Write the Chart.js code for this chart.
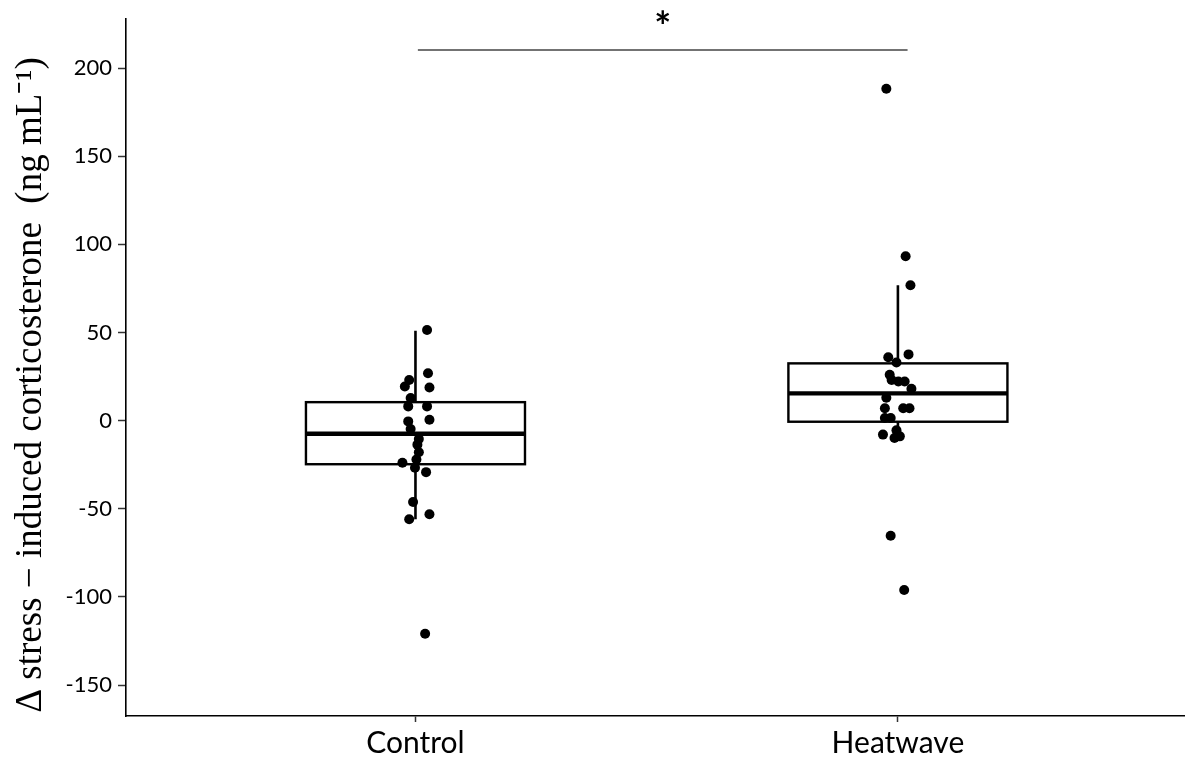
<!DOCTYPE html>
<html>
<head>
<meta charset="utf-8">
<script src="https://cdn.jsdelivr.net/npm/chart.js@4.4.1/dist/chart.umd.min.js"></script>
<style>
  html, body { margin: 0; padding: 0; background: #fff; }
  #wrap { width: 1189px; height: 769px; position: relative; }
</style>
</head>
<body>
<div id="wrap"><canvas id="c" width="1189" height="769"></canvas></div>
<script>
// ---- data ----
const categories = ['Control', 'Heatwave'];
const yTickValues = [-150, -100, -50, 0, 50, 100, 150, 200];

// box statistics per category: [whiskerLow, q1, median, q3, whiskerHigh]
const controlBox = [-55.9, -24.7, -7.4, 10.5, 51.0];
const heatwaveBox = [-9.8, -0.6, 15.5, 32.5, 76.8];

// jittered observations (x position in category units, y value)
const controlX = [1.024, 1.026, 0.987, 0.978, 1.029, 0.990, 0.985, 1.024, 0.985, 1.029, 0.990, 1.007, 1.004, 1.007, 1.002, 0.973, 0.999, 1.022, 0.995, 0.987, 1.029, 1.020];
const controlY = [51.4, 26.9, 23.1, 19.4, 18.8, 12.8, 8.1, 8.1, -0.4, 0.5, -4.7, -10.4, -13.6, -17.9, -22.0, -23.9, -26.7, -29.2, -46.1, -55.9, -53.1, -120.8];
const heatwaveX = [1.976, 2.016, 2.026, 2.022, 1.980, 1.997, 1.983, 1.987, 2.001, 2.014, 2.028, 1.976, 1.973, 2.011, 2.024, 1.973, 1.985, 1.969, 1.997, 2.004, 1.993, 1.985, 2.013];
const heatwaveY = [188.3, 93.3, 76.8, 37.6, 36.0, 33.0, 26.0, 23.1, 22.2, 22.2, 18.1, 13.0, 7.0, 7.0, 7.0, 1.5, 1.5, -7.9, -5.5, -8.9, -9.8, -65.3, -96.0];

// significance annotation
const sigX = [1.005, 2.02];
const sigY = 210.2;
const sigLabel = '*';

const yTitle = 'Δ stress − induced corticosterone  (ng mL⁻¹)';

// ---- build ----
const boxes = [controlBox, heatwaveBox];
const boxHalfWidth = 0.227;

const points = [];
controlX.forEach((x, i) => points.push({ x: x, y: controlY[i] }));
heatwaveX.forEach((x, i) => points.push({ x: x, y: heatwaveY[i] }));

const boxPlugin = {
  id: 'boxPlugin',
  beforeDatasetsDraw(chart) {
    const ctx = chart.ctx;
    const xs = chart.scales.x, ys = chart.scales.y;
    ctx.save();
    ctx.strokeStyle = '#000';
    boxes.forEach((b, i) => {
      const cx = xs.getPixelForValue(i + 1);
      const l = xs.getPixelForValue(i + 1 - boxHalfWidth);
      const r = xs.getPixelForValue(i + 1 + boxHalfWidth);
      const yLow = ys.getPixelForValue(b[0]);
      const yQ1 = ys.getPixelForValue(b[1]);
      const yMed = ys.getPixelForValue(b[2]);
      const yQ3 = ys.getPixelForValue(b[3]);
      const yHigh = ys.getPixelForValue(b[4]);
      ctx.lineWidth = 2.6;
      ctx.beginPath();
      ctx.moveTo(cx, yQ3); ctx.lineTo(cx, yHigh);
      ctx.moveTo(cx, yQ1); ctx.lineTo(cx, yLow);
      ctx.stroke();
      ctx.fillStyle = '#fff';
      ctx.fillRect(l, yQ3, r - l, yQ1 - yQ3);
      ctx.lineWidth = 2.4;
      ctx.strokeRect(l, yQ3, r - l, yQ1 - yQ3);
      ctx.lineWidth = 4.4;
      ctx.beginPath();
      ctx.moveTo(l, yMed); ctx.lineTo(r, yMed);
      ctx.stroke();
    });
    ctx.restore();
  },
  afterDraw(chart) {
    const ctx = chart.ctx;
    const xs = chart.scales.x, ys = chart.scales.y;
    ctx.save();
    const x1 = xs.getPixelForValue(sigX[0]);
    const x2 = xs.getPixelForValue(sigX[1]);
    const yy = ys.getPixelForValue(sigY);
    ctx.strokeStyle = '#444';
    ctx.lineWidth = 1.6;
    ctx.beginPath();
    ctx.moveTo(x1, yy); ctx.lineTo(x2, yy);
    ctx.stroke();
    ctx.fillStyle = '#000';
    ctx.font = 'bold 40px Lato';
    ctx.textAlign = 'center';
    ctx.textBaseline = 'middle';
    ctx.fillText(sigLabel, (x1 + x2) / 2, yy - 22);

    // y axis title
    ctx.translate(31, 385);
    ctx.rotate(-Math.PI / 2);
    ctx.font = '37px "Liberation Serif"';
    ctx.textAlign = 'center';
    ctx.textBaseline = 'middle';
    ctx.fillText(yTitle, 0, 0);
    ctx.restore();
  }
};

new Chart(document.getElementById('c'), {
  type: 'scatter',
  data: {
    datasets: [{
      data: points,
      pointRadius: 5,
      pointHoverRadius: 5,
      pointBackgroundColor: '#000',
      pointBorderColor: '#000',
      pointBorderWidth: 0
    }]
  },
  options: {
    responsive: false,
    animation: false,
    events: [],
    layout: { padding: { top: 16, right: 0, left: 0, bottom: 0 } },
    plugins: { legend: { display: false }, tooltip: { enabled: false } },
    scales: {
      x: {
        type: 'linear',
        min: 0.4,
        max: 2.593,
        afterBuildTicks(scale) { scale.ticks = categories.map((c, i) => ({ value: i + 1 })); },
        afterFit(scale) { scale.height = 53; },
        ticks: {
          callback: (v) => categories[Math.round(v) - 1] || '',
          color: '#000',
          font: { family: 'Lato', size: 30 },
          padding: 3,
          maxRotation: 0,
          autoSkip: false
        },
        grid: { drawOnChartArea: false, tickLength: 6, color: '#333', tickWidth: 1.5 },
        border: { color: '#000', width: 1.6 }
      },
      y: {
        type: 'linear',
        min: -167.5,
        max: 227.7,
        afterBuildTicks(scale) { scale.ticks = yTickValues.map(v => ({ value: v })); },
        afterFit(scale) { scale.width = 126; },
        ticks: {
          color: '#000',
          font: { family: 'Lato', size: 22 },
          padding: 6,
          autoSkip: false
        },
        grid: { drawOnChartArea: false, tickLength: 8, color: '#333', tickWidth: 1.5 },
        border: { color: '#000', width: 1.6 },
        title: { display: false }
      }
    }
  },
  plugins: [boxPlugin]
});
</script>
</body>
</html>
